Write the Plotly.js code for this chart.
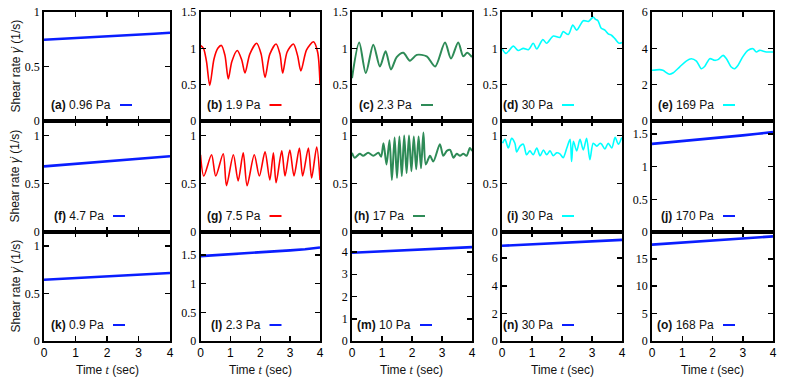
<!DOCTYPE html>
<html>
<head>
<meta charset="utf-8">
<script src="https://cdn.plot.ly/plotly-3.0.1.min.js"></script>
<style>
  html, body { margin: 0; padding: 0; background: #fff; }
  #graph { width: 789px; height: 390px; }
</style>
</head>
<body>
<div id="graph"></div>
<script>
// time samples (sec) for the nearly straight runs
const tLin = [0, 0.5, 1, 1.5, 2, 2.5, 3, 3.5, 4];

// row 1
const yA = [0.745, 0.752, 0.76, 0.768, 0.776, 0.784, 0.792, 0.80, 0.81];
const tB = [0, 0.1, 0.2, 0.31, 0.45, 0.58, 0.70, 0.82, 0.93, 1.05, 1.23, 1.38, 1.49, 1.65, 1.88, 2.03, 2.16, 2.32, 2.53, 2.66, 2.75, 2.9, 3.11, 3.25, 3.36, 3.55, 3.78, 3.92, 4.0];
const yB = [1.04, 1.0, 0.82, 0.49, 0.85, 1.0, 1.04, 0.9, 0.58, 0.82, 0.97, 0.84, 0.66, 0.92, 1.07, 0.92, 0.60, 0.92, 1.06, 0.92, 0.66, 0.95, 1.06, 0.9, 0.69, 0.98, 1.09, 0.95, 0.51];
const tC = [0, 0.24, 0.46, 0.71, 0.93, 1.12, 1.3, 1.49, 1.71, 1.93, 2.16, 2.49, 2.77, 3.1, 3.3, 3.54, 3.71, 3.84, 4.0];
const yC = [0.59, 1.08, 0.66, 1.05, 0.75, 0.96, 0.71, 0.88, 0.94, 0.83, 0.91, 0.89, 0.75, 1.08, 0.86, 1.08, 0.89, 0.94, 0.88];
const tD = [0, 0.13, 0.38, 0.54, 0.71, 0.88, 1.04, 1.16, 1.36, 1.49, 1.71, 1.93, 2.04, 2.21, 2.36, 2.49, 2.71, 2.88, 3.04, 3.12, 3.2, 3.3, 3.43, 3.54, 3.65, 3.77, 3.9, 4.0];
const yD = [1.0, 0.93, 1.03, 0.97, 1.0, 0.98, 1.07, 0.99, 1.12, 1.07, 1.17, 1.15, 1.23, 1.19, 1.32, 1.25, 1.38, 1.37, 1.43, 1.40, 1.38, 1.28, 1.25, 1.2, 1.18, 1.13, 1.07, 1.08];
const tE = [0, 0.25, 0.36, 0.58, 0.69, 0.91, 1.13, 1.3, 1.47, 1.63, 1.74, 1.91, 2.07, 2.18, 2.35, 2.46, 2.62, 2.73, 2.84, 3.01, 3.17, 3.34, 3.45, 3.56, 3.78, 4.0];
const yE = [2.79, 2.83, 2.79, 2.57, 2.64, 2.97, 3.3, 3.43, 3.3, 2.88, 3.0, 3.43, 3.34, 3.38, 3.61, 3.43, 2.97, 2.88, 3.06, 3.56, 3.89, 3.98, 3.8, 3.89, 3.8, 3.8];

// row 2
const yF = [0.68, 0.693, 0.706, 0.72, 0.732, 0.745, 0.758, 0.771, 0.785];
const tG = [0, 0.11, 0.37, 0.51, 0.76, 0.87, 1.1, 1.26, 1.43, 1.56, 1.8, 1.97, 2.16, 2.32, 2.44, 2.53, 2.72, 2.83, 2.99, 3.13, 3.31, 3.42, 3.61, 3.72, 3.89, 4.0];
const yG = [0.80, 0.58, 0.80, 0.58, 0.81, 0.48, 0.80, 0.53, 0.82, 0.48, 0.80, 0.58, 0.83, 0.54, 0.82, 0.51, 0.84, 0.58, 0.85, 0.58, 0.87, 0.58, 0.87, 0.56, 0.88, 0.54];
const tH = [0, 0.09, 0.26, 0.37, 0.54, 0.71, 0.88, 0.97, 1.05, 1.15, 1.25, 1.33, 1.42, 1.5, 1.58, 1.66, 1.74, 1.82, 1.9, 1.98, 2.06, 2.14, 2.22, 2.3, 2.38, 2.46, 2.6, 2.71, 2.93, 3.04, 3.16, 3.27, 3.38, 3.49, 3.6, 3.71, 3.82, 3.93, 4.0];
const yH = [0.82, 0.77, 0.81, 0.79, 0.82, 0.79, 0.82, 0.78, 0.92, 0.70, 0.95, 0.54, 0.98, 0.56, 0.99, 0.58, 1.0, 0.61, 1.0, 0.63, 0.99, 0.65, 0.99, 0.66, 1.03, 0.70, 0.79, 0.73, 0.91, 0.79, 0.84, 0.85, 0.77, 0.81, 0.79, 0.81, 0.79, 0.87, 0.84];
const tI = [0.02, 0.1, 0.21, 0.32, 0.43, 0.49, 0.6, 0.71, 0.82, 0.93, 1.04, 1.16, 1.27, 1.38, 1.49, 1.6, 1.71, 1.82, 1.93, 2.04, 2.16, 2.27, 2.32, 2.38, 2.49, 2.6, 2.71, 2.82, 2.93, 3.04, 3.16, 3.27, 3.32, 3.43, 3.54, 3.66, 3.77, 3.88, 3.99];
const yI = [0.92, 0.96, 0.87, 0.97, 0.92, 0.83, 0.89, 0.91, 0.80, 0.84, 0.80, 0.87, 0.79, 0.85, 0.80, 0.84, 0.79, 0.82, 0.81, 0.77, 0.87, 0.96, 0.73, 0.94, 0.84, 0.96, 0.85, 0.97, 0.75, 0.92, 0.89, 0.92, 0.91, 0.86, 0.92, 0.87, 0.98, 0.91, 0.98];
const yJ = [1.35, 1.37, 1.39, 1.41, 1.43, 1.455, 1.48, 1.505, 1.53];

// row 3
const yK = [0.647, 0.655, 0.664, 0.673, 0.682, 0.69, 0.699, 0.708, 0.717];
const yL = [1.48, 1.495, 1.51, 1.525, 1.54, 1.56, 1.58, 1.60, 1.63];
const yM = [3.97, 4.0, 4.03, 4.06, 4.09, 4.12, 4.16, 4.19, 4.22];
const yN = [6.9, 6.95, 7.0, 7.06, 7.12, 7.17, 7.23, 7.28, 7.33];
const yO = [17.6, 17.8, 17.95, 18.15, 18.35, 18.5, 18.7, 18.9, 19.1];

const labels = [
  '<b>(a)</b> 0.96 Pa', '<b>(b)</b> 1.9 Pa', '<b>(c)</b> 2.3 Pa', '<b>(d)</b> 30 Pa', '<b>(e)</b> 169 Pa',
  '<b>(f)</b> 4.7 Pa', '<b>(g)</b> 7.5 Pa', '<b>(h)</b> 17 Pa', '<b>(i)</b> 30 Pa', '<b>(j)</b> 170 Pa',
  '<b>(k)</b> 0.9 Pa', '<b>(l)</b> 2.3 Pa', '<b>(m)</b> 10 Pa', '<b>(n)</b> 30 Pa', '<b>(o)</b> 168 Pa'
];
const yRanges = [[0, 1], [0, 1.5], [0, 1.5], [0, 1.5], [0, 6],
                 [0, 1.15], [0, 1.15], [0, 1.15], [0, 1.15], [0, 1.7],
                 [0, 1.15], [0, 1.9], [0, 4.9], [0, 7.9], [0, 19.9]];
const yDticks = [0.5, 0.5, 0.5, 0.5, 2, 0.5, 0.5, 0.5, 0.5, 0.5, 0.5, 0.5, 1, 2, 5];

const BLUE = '#0a1eff', RED = '#ff0000', GREEN = '#2e8b57', CYAN = '#00ffff';
const series = [
  [tLin, yA, BLUE], [tB, yB, RED], [tC, yC, GREEN], [tD, yD, CYAN], [tE, yE, CYAN],
  [tLin, yF, BLUE], [tG, yG, RED], [tH, yH, GREEN], [tI, yI, CYAN], [tLin, yJ, BLUE],
  [tLin, yK, BLUE], [tLin, yL, BLUE], [tLin, yM, BLUE], [tLin, yN, BLUE], [tLin, yO, BLUE]
];

// plot frames in pixels
const W = 789, H = 390;
const cols = [[44, 170], [200.5, 320], [352, 472], [502, 622], [652, 773]];
const rows = [[12, 121], [121, 232], [232, 341]];
// legend sample start, px from the left edge of each frame
const keyX = [76, 69, 69, 60, 71, 69, 69, 61, 60, 71, 69, 69, 68, 60, 71];

const SANS = 'Liberation Sans, Arial, sans-serif';
const SERIF = 'Liberation Serif, Times New Roman, serif';

const data = [];
const layout = {
  width: W, height: H,
  margin: {l: 0, r: 0, t: 0, b: 0},
  paper_bgcolor: '#fff', plot_bgcolor: '#fff',
  showlegend: false,
  annotations: [], shapes: []
};

series.forEach(([t, y, color], i) => {
  const r = Math.floor(i / 5), c = i % 5;
  const id = i === 0 ? '' : String(i + 1);
  const pw = cols[c][1] - cols[c][0], ph = rows[r][1] - rows[r][0];
  const width = color === BLUE ? 2.6 : (color === GREEN ? 2 : 1.6);

  data.push({
    x: t, y: y, xaxis: 'x' + id, yaxis: 'y' + id,
    type: 'scatter', mode: 'lines',
    line: {color: color, width: width, shape: color === BLUE ? 'linear' : 'spline', smoothing: 0.8},
    hoverinfo: 'skip'
  });

  layout['xaxis' + id] = {
    domain: [cols[c][0] / W, cols[c][1] / W], anchor: 'y' + id,
    range: [0, 4], dtick: 1, tick0: 0,
    ticks: 'inside', ticklen: 5, tickwidth: 1.5, tickcolor: '#000',
    showline: true, linewidth: 1.8, linecolor: '#000', mirror: 'ticks',
    showgrid: false, zeroline: false,
    showticklabels: r === 2,
    tickfont: {family: SANS, size: 12, color: '#000'}
  };
  layout['yaxis' + id] = {
    domain: [1 - rows[r][1] / H, 1 - rows[r][0] / H], anchor: 'x' + id,
    range: yRanges[i], dtick: yDticks[i], tick0: 0,
    ticks: 'inside', ticklen: 5, tickwidth: 1.5, tickcolor: '#000',
    showline: true, linewidth: 1.8, linecolor: '#000', mirror: 'ticks',
    showgrid: false, zeroline: false,
    tickfont: {family: SERIF, size: 12, color: '#000'}
  };

  const ky = 16 / ph;
  layout.annotations.push({
    xref: 'x' + id + ' domain', yref: 'y' + id + ' domain',
    x: (keyX[i] - 7) / pw, y: ky, xanchor: 'right', yanchor: 'middle',
    text: labels[i], showarrow: false,
    font: {family: SANS, size: 12, color: '#111'}
  });
  layout.shapes.push({
    type: 'line', xref: 'x' + id + ' domain', yref: 'y' + id + ' domain',
    x0: keyX[i] / pw, x1: (keyX[i] + 12) / pw, y0: ky, y1: ky,
    line: {color: color, width: 2}
  });
});

// axis titles
rows.forEach(([top, bot]) => {
  layout.annotations.push({
    xref: 'paper', yref: 'paper', x: 15 / W, y: 1 - (top + bot) / 2 / H,
    xanchor: 'center', yanchor: 'middle', textangle: -90,
    text: 'Shear rate <i>γ̇</i> (1/s)', showarrow: false,
    font: {family: SANS, size: 12, color: '#111'}
  });
});
cols.forEach(([l, r]) => {
  layout.annotations.push({
    xref: 'paper', yref: 'paper', x: (l + r) / 2 / W, y: 1 - 370 / H,
    xanchor: 'center', yanchor: 'middle',
    text: 'Time <span style="font-family:' + SERIF + '"><i>t</i></span> (sec)', showarrow: false,
    font: {family: SANS, size: 12, color: '#111'}
  });
});

Plotly.newPlot('graph', data, layout, {staticPlot: true});
</script>
</body>
</html>
